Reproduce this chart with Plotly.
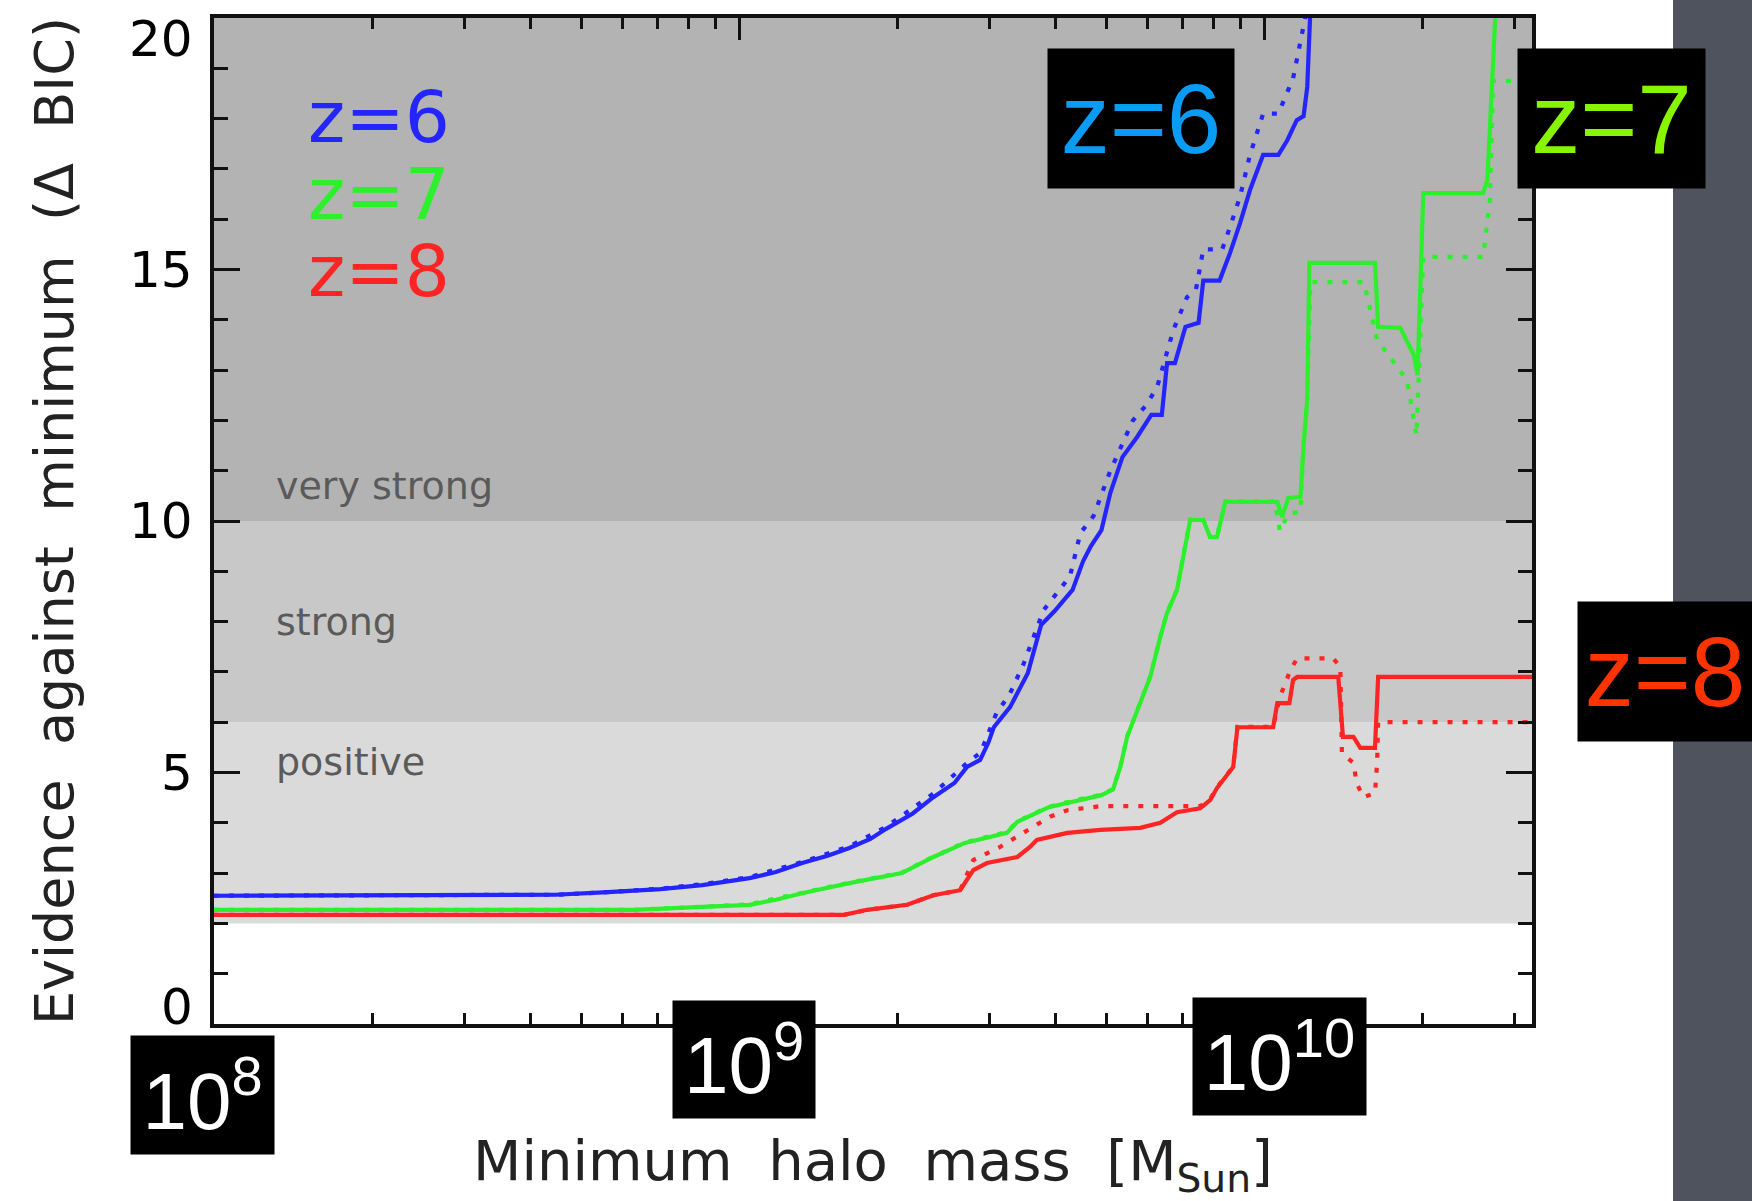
import plotly.graph_objects as go

# ---------------- data (log10 of minimum halo mass, Delta BIC) ----------------
z6_solid_logm = [8.00, 8.55, 8.65, 8.75, 8.85, 8.93, 9.02, 9.07, 9.12, 9.17, 9.21, 9.25, 9.28, 9.33,
                 9.37, 9.41, 9.434, 9.459, 9.475, 9.485, 9.516, 9.55, 9.565, 9.575, 9.60, 9.635,
                 9.655, 9.67, 9.69, 9.707, 9.73, 9.758, 9.785, 9.805, 9.815, 9.83, 9.85, 9.875,
                 9.884, 9.915, 9.935, 9.954, 9.973, 9.998, 10.027, 10.044, 10.062, 10.075, 10.082,
                 10.088, 10.095]
z6_solid_val = [2.55, 2.55, 2.57, 2.62, 2.68, 2.76, 2.90, 3.02, 3.20, 3.35, 3.50, 3.68, 3.88, 4.18,
                4.51, 4.79, 5.11, 5.25, 5.60, 5.90, 6.30, 6.98, 7.60, 7.93, 8.20, 8.63,
                9.20, 9.50, 9.82, 10.56, 11.27, 11.67, 12.11, 12.11, 13.14, 13.14, 13.86, 13.94,
                14.78, 14.78, 15.33, 15.92, 16.58, 17.28, 17.28, 17.57, 17.97, 18.05, 18.63,
                20.0, 22.0]

z6_dot_logm = [8.00, 8.55, 8.65, 8.75, 8.85, 8.93, 9.02, 9.12, 9.21, 9.28, 9.37, 9.43, 9.46, 9.49,
               9.515, 9.541, 9.56, 9.58, 9.63, 9.65, 9.675, 9.707, 9.75, 9.775, 9.796, 9.827,
               9.853, 9.87, 9.884, 9.92, 9.935, 9.954, 9.973, 9.998, 10.027, 10.055, 10.078, 10.085]
z6_dot_val = [2.55, 2.55, 2.57, 2.62, 2.69, 2.78, 2.92, 3.22, 3.53, 3.92, 4.58, 5.15, 5.40, 6.18,
              6.55, 7.14, 7.70, 8.23, 8.90, 9.76, 10.10, 11.00, 12.00, 12.30, 12.66, 13.80,
              14.45, 14.60, 15.40, 15.40, 15.85, 16.45, 17.28, 18.10, 18.10, 18.80, 20.0, 22.0]

z7_solid_logm = [8.00, 8.80, 8.93, 9.02, 9.07, 9.12, 9.21, 9.31, 9.37, 9.43, 9.51, 9.53, 9.59, 9.644,
                 9.69, 9.712, 9.726, 9.739, 9.758, 9.783, 9.802, 9.815, 9.834, 9.846, 9.859, 9.884,
                 9.897, 9.91, 9.926, 10.025, 10.034, 10.046, 10.069, 10.075, 10.082, 10.086, 10.211,
                 10.217, 10.259, 10.285, 10.292, 10.303, 10.417, 10.425, 10.434, 10.44, 10.445]
z7_solid_val = [2.27, 2.27, 2.33, 2.37, 2.47, 2.60, 2.80, 3.00, 3.32, 3.60, 3.80, 4.02, 4.31, 4.45,
                4.55, 4.66, 5.11, 5.71, 6.24, 6.90, 7.69, 8.17, 8.63, 9.28, 10.02, 10.02,
                9.68, 9.68, 10.38, 10.38, 10.08, 10.46, 10.48, 11.50, 12.44, 15.13, 15.13,
                13.86, 13.84, 13.30, 12.90, 16.52, 16.52, 16.78, 18.70, 20.0, 22.0]

z7_dot_logm = [8.00, 8.80, 8.93, 9.02, 9.12, 9.21, 9.31, 9.37, 9.43, 9.51, 9.53, 9.59, 9.644, 9.69,
               9.712, 9.726, 9.739, 9.758, 9.783, 9.802, 9.815, 9.834, 9.846, 9.859, 9.884, 9.897,
               9.91, 9.926, 10.02, 10.03, 10.046, 10.069, 10.075, 10.082, 10.088, 10.19, 10.215,
               10.253, 10.272, 10.29, 10.303, 10.417, 10.43, 10.436, 10.51]
z7_dot_val = [2.27, 2.27, 2.33, 2.38, 2.61, 2.81, 3.01, 3.33, 3.61, 3.82, 4.03, 4.32, 4.46, 4.56,
              4.67, 5.12, 5.72, 6.25, 6.91, 7.70, 8.18, 8.64, 9.29, 10.03, 10.03, 9.69,
              9.69, 10.39, 10.39, 9.80, 10.15, 10.18, 11.50, 12.44, 14.75, 14.75, 13.60,
              13.06, 12.80, 11.70, 15.25, 15.25, 16.40, 18.75, 18.75]

z8_solid_logm = [8.00, 9.20, 9.244, 9.32, 9.37, 9.421, 9.446, 9.472, 9.53, 9.554, 9.567, 9.625, 9.688,
                 9.764, 9.802, 9.834, 9.878, 9.897, 9.910, 9.93, 9.941, 9.949, 10.017, 10.025, 10.048,
                 10.055, 10.063, 10.141, 10.150, 10.17, 10.183, 10.211, 10.217, 10.51]
z8_solid_val = [2.17, 2.17, 2.27, 2.37, 2.56, 2.66, 3.06, 3.20, 3.32, 3.52, 3.66, 3.80, 3.86,
                3.90, 4.00, 4.21, 4.29, 4.45, 4.69, 4.95, 5.11, 5.90, 5.90, 6.38, 6.38,
                6.84, 6.90, 6.90, 5.71, 5.71, 5.49, 5.49, 6.90, 6.90]

z8_dot_logm = [8.00, 9.20, 9.244, 9.32, 9.37, 9.421, 9.446, 9.497, 9.56, 9.592, 9.625, 9.688, 9.878,
               9.897, 9.910, 9.93, 9.941, 9.949, 10.017, 10.03, 10.05, 10.063, 10.131, 10.145,
               10.148, 10.17, 10.176, 10.189, 10.211, 10.215, 10.217, 10.51]
z8_dot_val = [2.17, 2.17, 2.27, 2.37, 2.56, 2.66, 3.26, 3.52, 3.92, 4.12, 4.25, 4.33, 4.33,
              4.47, 4.70, 4.96, 5.12, 5.91, 5.91, 6.50, 7.04, 7.27, 7.27, 7.10,
              5.38, 5.19, 4.79, 4.51, 4.59, 5.19, 6.00, 6.00]

series_names = ["z=6", "z=7", "z=8"]
band_edges = [2, 6, 10, 20]
band_labels = ["positive", "strong", "very strong"]
y_ticks = [0, 5, 10, 15, 20]
x_major = [1e8, 1e9, 1e10]
x_minor = [k * 10 ** e for e in (8, 9) for k in range(2, 10)] + [2e10, 3e10]
x_tick_text = ["10<sup>8</sup>", "10<sup>9</sup>", "10<sup>10</sup>"]

# ---------------- styling ----------------
W, H = 1752, 1201
PL, PR, PT, PB = 214, 1532, 18, 1024   # plot area in pixels
FONT = "DejaVu Sans"
HELV = "Liberation Sans, Arial, Helvetica"
line_colors = ["#2424ff", "#2cf02c", "#ff2424"]
box_colors = ["#0a9cf5", "#88f500", "#ff3300"]
band_colors = ["#dadada", "#c8c8c8", "#b3b3b3"]


def pxx(x):
    return (x - PL) / (PR - PL)


def pxy(y):
    return (PB - y) / (PB - PT)


fig = go.Figure()

solids = [(z6_solid_logm, z6_solid_val), (z7_solid_logm, z7_solid_val), (z8_solid_logm, z8_solid_val)]
dots = [(z6_dot_logm, z6_dot_val), (z7_dot_logm, z7_dot_val), (z8_dot_logm, z8_dot_val)]

for (lx, v), c, n in zip(dots, line_colors, series_names):
    fig.add_trace(go.Scatter(x=[10 ** a for a in lx], y=v, mode="lines", name=n + " (dotted)",
                             line=dict(color=c, width=4.2, dash="5px,10px"), showlegend=False))
for (lx, v), c, n in zip(solids, line_colors, series_names):
    fig.add_trace(go.Scatter(x=[10 ** a for a in lx], y=v, mode="lines", name=n,
                             line=dict(color=c, width=4.2), showlegend=False))

shapes = []
for i, col in enumerate(band_colors):
    shapes.append(dict(type="rect", xref="paper", yref="y", x0=0, x1=1,
                       y0=band_edges[i], y1=band_edges[i + 1], fillcolor=col,
                       line=dict(width=0), layer="below"))
# dark slide panel on the right
shapes.append(dict(type="rect", xref="paper", yref="paper", x0=pxx(1673), x1=pxx(1770),
                   y0=pxy(1220), y1=pxy(-20), fillcolor="#4f535d", line=dict(width=0), layer="below"))

annotations = []
# band labels
for lab, yv in zip(band_labels, [5.2, 8.0, 10.7]):
    annotations.append(dict(text=lab, x=8.114, y=yv, xref="x", yref="y", xanchor="left",
                            yanchor="middle", showarrow=False,
                            font=dict(family=FONT, size=38, color="#5a5a5a")))
# in-plot legend labels
for n, c, yv in zip(series_names, line_colors, [18.02, 16.49, 14.97]):
    annotations.append(dict(text=n, x=8.176, y=yv, xref="x", yref="y", xanchor="left",
                            yanchor="middle", showarrow=False,
                            font=dict(family=FONT, size=71, color=c)))
# y tick labels
for t, sh in zip(y_ticks, [17, 0, 0, 0, -21]):
    annotations.append(dict(text=str(t), x=0, y=t, xref="paper", yref="y", xanchor="right",
                            yanchor="middle", xshift=-19, yshift=sh, showarrow=False,
                            font=dict(family=FONT, size=50, color="black")))
# white-on-black x tick label boxes
for t, (cx, cy, w, h) in zip(x_tick_text, [(202.5, 1095, 143, 118), (744, 1059.5, 142, 117),
                                          (1279.5, 1056.5, 173, 117)]):
    annotations.append(dict(text=t, x=pxx(cx), y=pxy(cy), xref="paper", yref="paper",
                            xanchor="center", yanchor="middle", width=w, height=h,
                            bgcolor="black", borderpad=0, showarrow=False,
                            font=dict(family=HELV, size=80, color="white")))
# coloured redshift boxes
for n, c, (cx, cy, w, h) in zip(series_names, box_colors,
                                [(1141, 118.5, 186, 139), (1611.5, 118.5, 187, 139),
                                 (1665, 671.5, 174, 139)]):
    annotations.append(dict(text=n, x=pxx(cx), y=pxy(cy), xref="paper", yref="paper",
                            xanchor="center", yanchor="middle", width=w, height=h,
                            bgcolor="black", borderpad=0, showarrow=False,
                            font=dict(family=HELV, size=98, color=c)))

fig.update_layout(
    width=W, height=H,
    margin=dict(l=PL, r=W - PR, t=PT, b=H - PB, autoexpand=False),
    paper_bgcolor="white", plot_bgcolor="white",
    font=dict(family=FONT, color="#222"),
    shapes=shapes, annotations=annotations,
    showlegend=False,
)
fig.update_xaxes(
    type="log", range=[8, 10.51], showgrid=False, zeroline=False,
    showline=True, linecolor="#111", linewidth=4, mirror="ticks",
    ticks="inside", tickvals=x_major, ticklen=22, tickwidth=3, tickcolor="#111",
    showticklabels=False,
    minor=dict(ticks="inside", tickvals=x_minor, ticklen=11, tickwidth=3, tickcolor="#111",
               showgrid=False),
    title=dict(text="Minimum  halo  mass  [M<sub>Sun</sub>]", standoff=120,
               font=dict(family=FONT, size=56, color="#222")),
)
fig.update_yaxes(
    range=[0, 20], showgrid=False, zeroline=False,
    showline=True, linecolor="#111", linewidth=4, mirror="ticks",
    ticks="inside", tickvals=y_ticks, ticklen=26, tickwidth=3, tickcolor="#111",
    showticklabels=False,
    minor=dict(ticks="inside", dtick=1, ticklen=14, tickwidth=3, tickcolor="#111",
               showgrid=False),
    title=dict(text="Evidence  against  minimum  (Δ  BIC)", standoff=120,
               font=dict(family=FONT, size=54, color="#222")),
)

fig.write_html("out.html", config={"displayModeBar": False},
               post_script="document.body.style.margin='0px';document.body.style.overflow='hidden';")
